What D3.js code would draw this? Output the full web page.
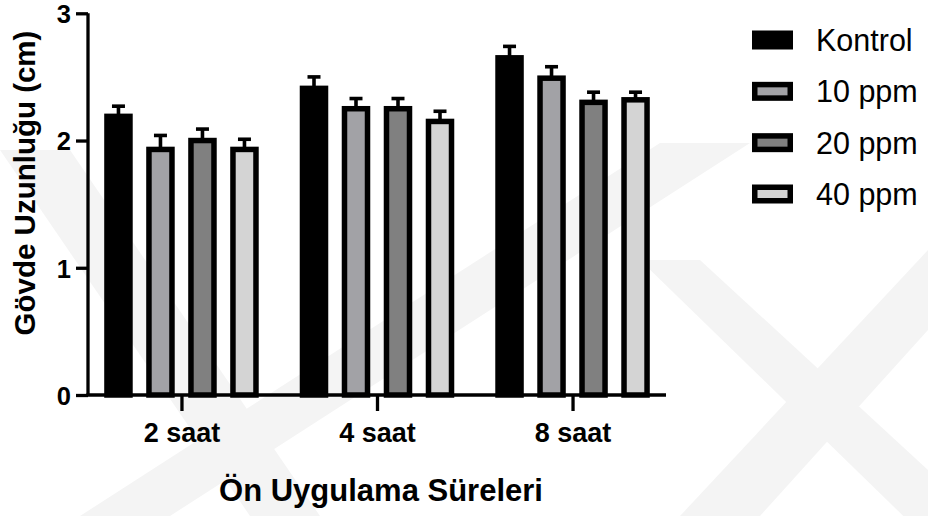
<!DOCTYPE html>
<html>
<head>
<meta charset="utf-8">
<script src="https://cdn.jsdelivr.net/npm/d3@7"></script>
<style>
  html, body { margin: 0; padding: 0; background: #fff; }
  svg { display: block; font-family: "Liberation Sans", Arial, sans-serif; }
</style>
</head>
<body>
<svg id="chart" width="928" height="516"></svg>
<script>
// Treatment durations (x groups)
const groups = ["2 saat", "4 saat", "8 saat"];
// Concentration series
const series = ["Kontrol", "10 ppm", "20 ppm", "40 ppm"];
const seriesColors = ["#000000", "#a2a2a6", "#808080", "#d4d4d4"];
// Mean stem length (cm) per series, one value per group
const kontrol = [2.19, 2.41, 2.65];
const ppm10   = [1.93, 2.25, 2.49];
const ppm20   = [2.00, 2.25, 2.30];
const ppm40   = [1.93, 2.15, 2.32];
// Standard error per series, one value per group
const kontrolErr = [0.08, 0.09, 0.09];
const ppm10Err   = [0.11, 0.08, 0.09];
const ppm20Err   = [0.09, 0.08, 0.08];
const ppm40Err   = [0.08, 0.08, 0.06];
const yTicks = [0, 1, 2, 3];

const means = [kontrol, ppm10, ppm20, ppm40];
const errs = [kontrolErr, ppm10Err, ppm20Err, ppm40Err];

const svg = d3.select("#chart");

// faint background band pattern
const bg = svg.append("g").attr("fill", "#f4f4f4");
const bands = [
  [[0, 150], [70, 150], [320, 516], [250, 516]],
  [[660, 143], [750, 143], [170, 516], [80, 516]],
  [[640, 260], [700, 260], [928, 470], [928, 540]],
  [[928, 250], [928, 330], [760, 516], [680, 516]]
];
bg.selectAll("polygon").data(bands).join("polygon")
  .attr("points", d => d.map(p => p.join(",")).join(" "));

const y = d3.scaleLinear().domain([0, 3]).range([395, 13.3]);
const x = d3.scalePoint().domain(groups).range([88, 666]).padding(0.478);
const inner = d3.scaleBand().domain(series).range([-84, 84])
  .paddingInner(0.452).paddingOuter(0.226);

const rows = [];
series.forEach((s, si) => groups.forEach((g, gi) => {
  rows.push({ s, g, color: seriesColors[si], v: means[si][gi], e: errs[si][gi] });
}));

const stroke = 5.5;
const plot = svg.append("g");

// error bars (drawn first so the bar outline covers the stem base)
const eb = plot.append("g").attr("stroke", "#000").attr("stroke-width", 3.6);
eb.selectAll("line.stem").data(rows).join("line").attr("class", "stem")
  .attr("x1", d => x(d.g) + inner(d.s) + inner.bandwidth() / 2)
  .attr("x2", d => x(d.g) + inner(d.s) + inner.bandwidth() / 2)
  .attr("y1", d => y(d.v))
  .attr("y2", d => y(d.v + d.e));
eb.selectAll("line.cap").data(rows).join("line").attr("class", "cap")
  .attr("x1", d => x(d.g) + inner(d.s) + inner.bandwidth() / 2 - 6.5)
  .attr("x2", d => x(d.g) + inner(d.s) + inner.bandwidth() / 2 + 6.5)
  .attr("y1", d => y(d.v + d.e))
  .attr("y2", d => y(d.v + d.e));

plot.append("g").selectAll("rect").data(rows).join("rect")
  .attr("x", d => x(d.g) + inner(d.s))
  .attr("width", inner.bandwidth())
  .attr("y", d => y(d.v))
  .attr("height", d => y(0) - y(d.v))
  .attr("fill", d => d.color)
  .attr("stroke", "#000")
  .attr("stroke-width", stroke);

// y axis
const yAxis = svg.append("g").attr("transform", "translate(88,0)")
  .call(d3.axisLeft(y).tickValues(yTicks).tickFormat(d3.format("d")).tickSize(12).tickPadding(5));
yAxis.select(".domain").attr("stroke", "#000").attr("stroke-width", 3.3).attr("d", `M0,${y(3)}V${y(0)}`);
yAxis.selectAll(".tick line").attr("stroke", "#000").attr("stroke-width", 3.3);
yAxis.selectAll(".tick text").attr("fill", "#000").attr("font-size", 25.5).attr("font-weight", "bold")
  .attr("font-family", "Liberation Sans, Arial, sans-serif").attr("dy", "0.37em");

// x axis
const xAxis = svg.append("g").attr("transform", "translate(0,395)")
  .call(d3.axisBottom(x).tickSize(16).tickPadding(12));
xAxis.select(".domain").attr("stroke", "#000").attr("stroke-width", 3.3).attr("d", "M86.4,0H666");
xAxis.selectAll(".tick line").attr("stroke", "#000").attr("stroke-width", 3.3);
xAxis.selectAll(".tick text").attr("fill", "#000").attr("font-size", 27).attr("font-weight", "bold")
  .attr("font-family", "Liberation Sans, Arial, sans-serif").attr("dy", "0.71em");

// axis titles
svg.append("text")
  .attr("transform", "translate(35,183) rotate(-90)")
  .attr("text-anchor", "middle")
  .attr("font-size", 29.5).attr("font-weight", "bold")
  .text("Gövde Uzunluğu (cm)");
svg.append("text")
  .attr("x", 381).attr("y", 501)
  .attr("text-anchor", "middle")
  .attr("font-size", 31).attr("font-weight", "bold")
  .text("Ön Uygulama Süreleri");

// legend
const legend = svg.append("g");
const ly = d3.scalePoint().domain(series).range([40, 194]);
const item = legend.selectAll("g").data(series).join("g")
  .attr("transform", d => `translate(0,${ly(d)})`);
item.append("rect")
  .attr("x", 752 + stroke / 2).attr("y", -9.5 + stroke / 2)
  .attr("width", 41 - stroke).attr("height", 19 - stroke)
  .attr("fill", (d, i) => seriesColors[i])
  .attr("stroke", "#000").attr("stroke-width", stroke);
item.append("text")
  .attr("x", 816).attr("y", 0).attr("dy", "0.36em")
  .attr("font-size", 30.5)
  .text(d => d);
</script>
</body>
</html>
